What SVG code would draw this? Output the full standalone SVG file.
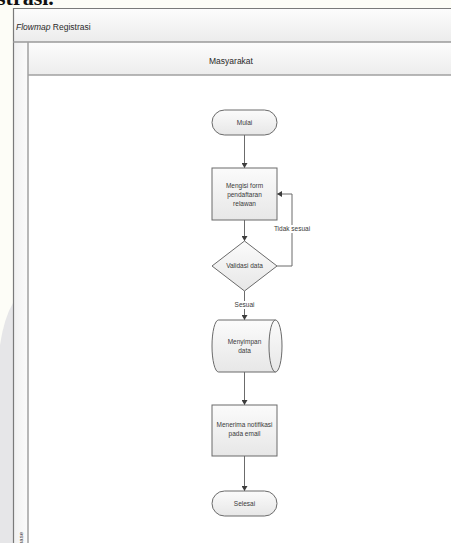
<svg xmlns="http://www.w3.org/2000/svg" width="451" height="543" viewBox="0 0 451 543">
<defs>
<linearGradient id="hdr" x1="0" y1="0" x2="0" y2="1">
<stop offset="0" stop-color="#fdfdfd"/>
<stop offset="1" stop-color="#ececec"/>
</linearGradient>
<linearGradient id="strip" x1="0" y1="0" x2="1" y2="0">
<stop offset="0" stop-color="#f0f0f0"/>
<stop offset="1" stop-color="#fbfbfb"/>
</linearGradient>
<linearGradient id="node" x1="0" y1="0" x2="0" y2="1">
<stop offset="0" stop-color="#fbfbfb"/>
<stop offset="1" stop-color="#e7e7e7"/>
</linearGradient>
<marker id="arr" markerWidth="6" markerHeight="6" refX="5" refY="3" orient="auto" markerUnits="userSpaceOnUse">
<path d="M0,0 L5,3 L0,6 Z" fill="#3c3c3c"/>
</marker>
</defs>
<style>
.nd{fill:url(#node);stroke:#6a6a6a;stroke-width:1}
.t{font-family:"Liberation Sans",Arial,sans-serif;font-size:6.5px;fill:#3a3a3a;text-anchor:middle}
.lb{font-family:"Liberation Sans",Arial,sans-serif;font-size:6.5px;fill:#3a3a3a;text-anchor:middle}
.cn{fill:none;stroke:#6b6b6b;stroke-width:1}
.h{font-family:"Liberation Sans",Arial,sans-serif;font-size:8.5px;fill:#2a2a2a}
</style>
<!-- page background -->
<rect x="0" y="0" width="451" height="543" fill="#fdfdf7"/>
<path d="M0,345 Q4,318 13,303 L13,543 L0,543 Z" fill="#e6e6e8"/>
<text x="-3" y="5" font-family="Liberation Serif,'Times New Roman',serif" font-weight="bold" font-size="22" fill="#111">strasi.</text>
<!-- frame -->
<g id="pool">
<rect x="13" y="8" width="440" height="537" fill="#ffffff"/>
<rect x="13" y="8" width="440" height="34" fill="url(#hdr)"/>
<rect x="13" y="42" width="15" height="503" fill="url(#strip)"/>
<rect x="28" y="42" width="425" height="33" fill="url(#hdr)"/>
<line x1="13" y1="8.5" x2="451" y2="8.5" stroke="#7a7a7a" stroke-width="1.2"/>
<line x1="13.5" y1="8" x2="13.5" y2="543" stroke="#7a7a7a" stroke-width="1.2"/>
<line x1="13" y1="42" x2="451" y2="42" stroke="#9a9a9a" stroke-width="1.5"/>
<line x1="28" y1="42" x2="28" y2="543" stroke="#a0a0a0" stroke-width="1.5"/>
<line x1="28" y1="75" x2="451" y2="75" stroke="#a0a0a0" stroke-width="1.5"/>
<text class="h" x="16" y="30"><tspan font-style="italic">Flowmap</tspan> Registrasi</text>
<text class="h" x="231" y="64" text-anchor="middle">Masyarakat</text>
<text x="23" y="549" transform="rotate(-90 23 549)" font-family="Liberation Sans,Arial,sans-serif" font-size="6px" fill="#3a3a3a">Phase</text>
</g>
<!-- connectors -->
<g id="connectors">
<line class="cn" x1="244.5" y1="135" x2="244.5" y2="168" marker-end="url(#arr)"/>
<line class="cn" x1="244.5" y1="220" x2="244.5" y2="241" marker-end="url(#arr)"/>
<path class="cn" d="M277,266 L292,266 L292,194 L277,194" marker-end="url(#arr)"/>
<line class="cn" x1="244.5" y1="291" x2="244.5" y2="320" marker-end="url(#arr)"/>
<line class="cn" x1="244.5" y1="372" x2="244.5" y2="405" marker-end="url(#arr)"/>
<line class="cn" x1="244.5" y1="456" x2="244.5" y2="491" marker-end="url(#arr)"/>
<rect x="271" y="225" width="42" height="8" fill="#ffffff"/>
<text class="lb" x="292" y="231.3">Tidak sesuai</text>
<rect x="232" y="301" width="25" height="8" fill="#ffffff"/>
<text class="lb" x="244.5" y="307.3">Sesuai</text>
</g>
<!-- nodes -->
<g id="mulai">
<rect class="nd" x="212" y="110" width="65" height="25" rx="12.5" ry="12.5"/>
<text class="t" x="244.5" y="124.8">Mulai</text>
</g>
<g id="mengisi-form">
<rect class="nd" x="212" y="168" width="65" height="52"/>
<text class="t" x="244.5" y="188">Mengisi form</text>
<text class="t" x="244.5" y="197">pendaftaran</text>
<text class="t" x="244.5" y="206">relawan</text>
</g>
<g id="validasi">
<path class="nd" d="M244.5,241 L277,266 L244.5,291 L212,266 Z"/>
<text class="t" x="244.5" y="268.2">Validasi data</text>
</g>
<g id="menyimpan">
<path class="nd" d="M218.5,320 L275.5,320 A6.5 26 0 0 1 275.5,372 L218.5,372 A6.5 26 0 0 1 218.5,320 Z"/>
<path class="nd" style="fill:none" d="M275.5,320 A6.5 26 0 0 0 275.5,372"/>
<text class="t" x="244.5" y="344">Menyimpan</text>
<text class="t" x="244.5" y="353">data</text>
</g>
<g id="menerima">
<rect class="nd" x="212" y="405" width="65" height="51"/>
<text class="t" x="244.5" y="427">Menerima notifikasi</text>
<text class="t" x="244.5" y="436">pada email</text>
</g>
<g id="selesai">
<rect class="nd" x="212" y="491" width="65" height="25" rx="12.5" ry="12.5"/>
<text class="t" x="244.5" y="505.8">Selesai</text>
</g>
</svg>
